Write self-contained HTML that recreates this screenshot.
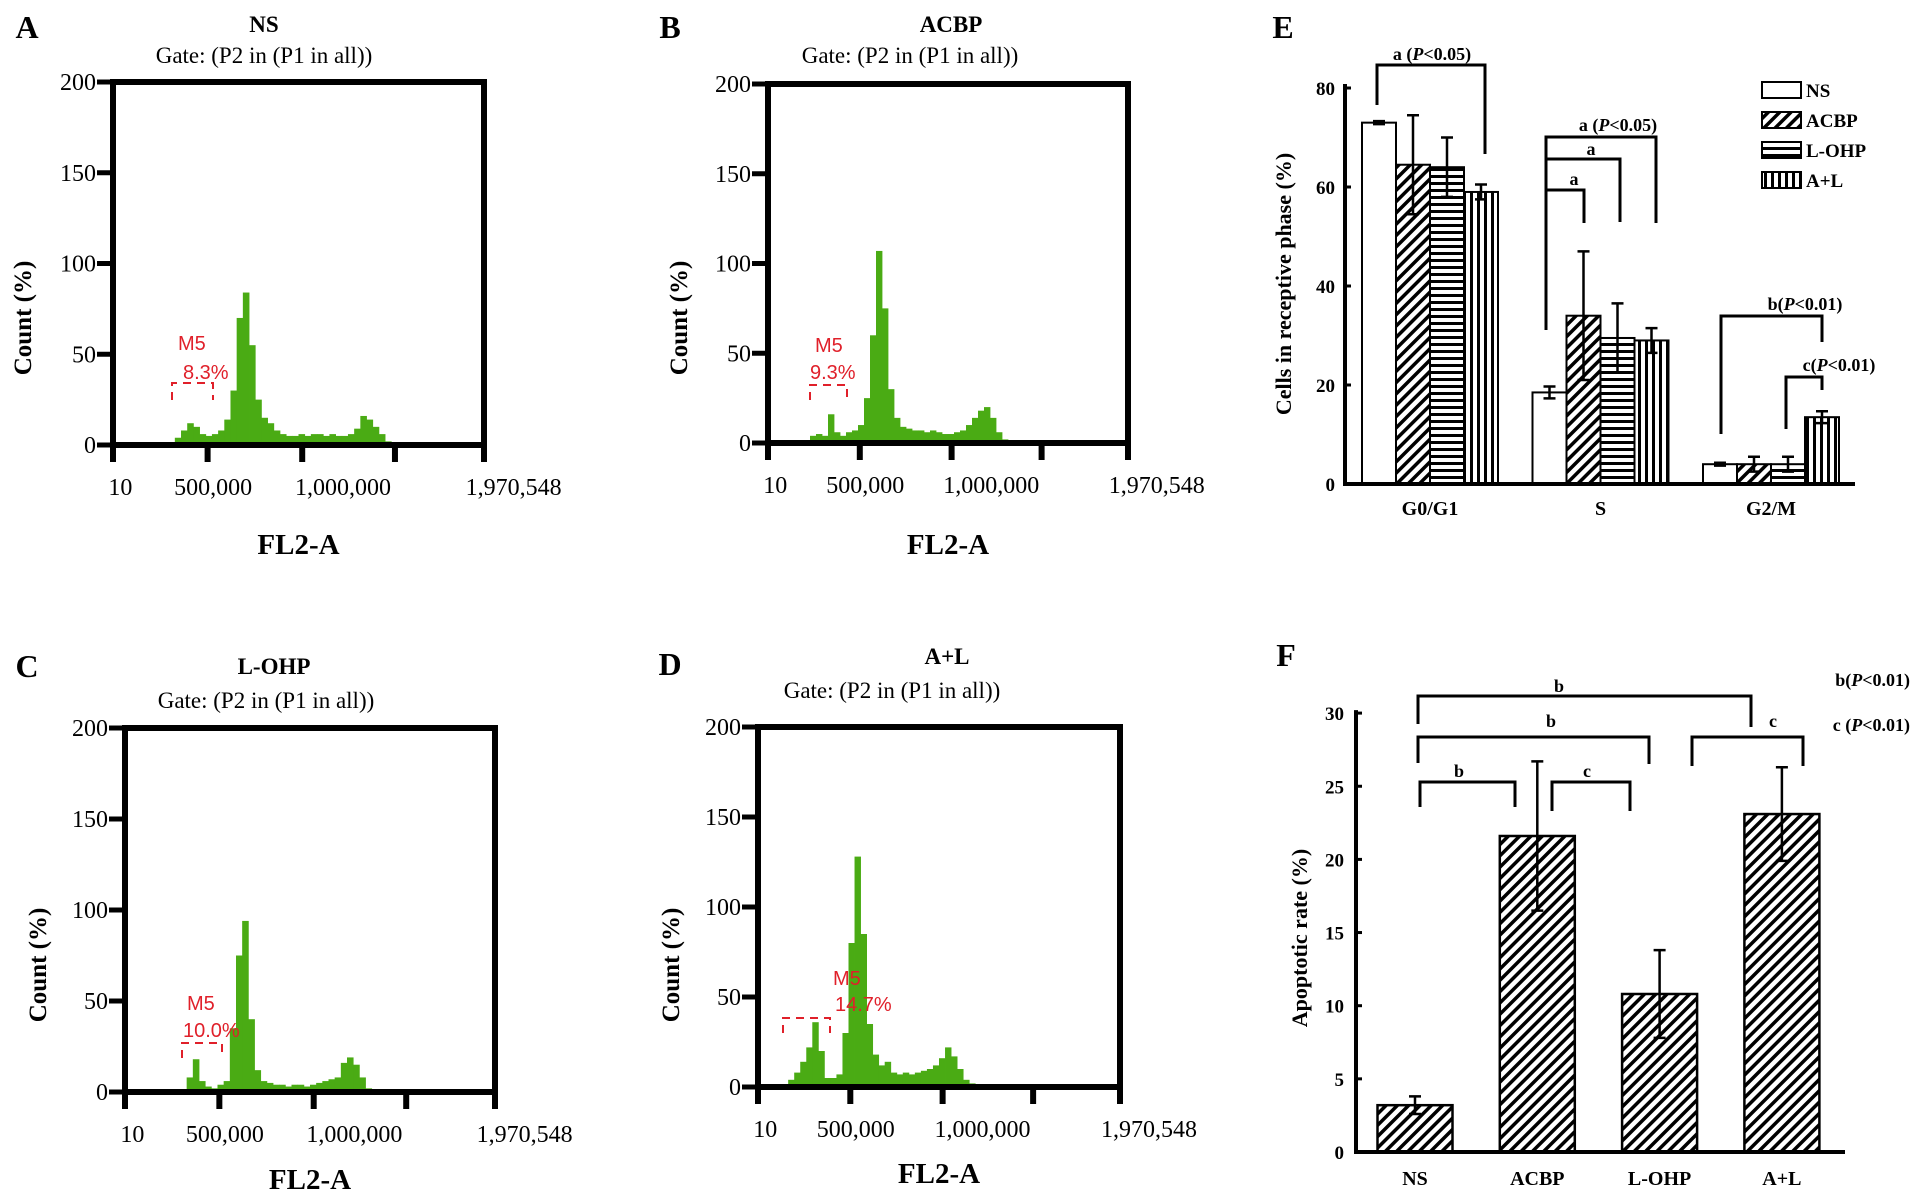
<!DOCTYPE html>
<html><head><meta charset="utf-8"><style>
html,body{margin:0;padding:0;background:#fff;}
svg{display:block;font-family:"Liberation Serif",serif;}
.sans{font-family:"Liberation Sans",sans-serif;}
</style></head><body>
<svg id="fig" width="1913" height="1201" viewBox="0 0 1913 1201" xmlns="http://www.w3.org/2000/svg">
<defs>
<pattern id="pDiag" patternUnits="userSpaceOnUse" width="8" height="8" patternTransform="rotate(45)"><rect width="8" height="8" fill="#fff"/><rect x="0" y="0" width="3.5" height="8" fill="#000"/></pattern>
<pattern id="pHor" patternUnits="userSpaceOnUse" width="8" height="7"><rect width="8" height="7" fill="#fff"/><rect x="0" y="0" width="8" height="3" fill="#000"/></pattern>
<pattern id="pVer" patternUnits="userSpaceOnUse" width="7" height="8"><rect width="7" height="8" fill="#fff"/><rect x="0" y="0" width="3" height="8" fill="#000"/></pattern>
</defs>
</svg>
<script>
// ---------- histogram data (60 bins across FL2-A range) ----------
const histA = [0,0,0,0,0,0,0,0,0,0,4,8,12,10,6,5,6,8,14,30,70,84,55,25,15,12,8,6,5,5,6,5,6,6,5,6,5,5,6,9,16,14,10,6,2,0,0,0,0,0,0,0,0,0,0,0,1,1,1,1];
const histB = [0,0,0,0,0,0,0,4,5,4,16,6,4,6,7,10,25,60,107,75,30,14,9,8,7,7,6,7,6,5,5,6,7,10,14,18,20,14,6,2,1,1,1,1,1,1,1,1,1,1,1,1,1,0,0,0,0,0,0,0];
const histC = [0,0,0,0,0,0,0,0,0,0,8,18,6,3,2,4,6,35,75,94,40,12,6,5,4,4,3,4,4,3,4,5,6,7,8,16,19,15,8,2,0,0,0,0,0,0,0,0,0,0,0,0,0,0,0,0,0,0,0,1];
const histD = [0,0,0,0,0,4,8,14,22,36,20,5,5,7,30,80,128,85,35,18,12,14,8,7,8,7,8,9,10,12,16,22,17,10,4,2,1,1,1,1,1,1,1,1,1,1,1,1,1,1,0,0,0,0,0,0,0,0,0,0];
const histYTicks = [0,50,100,150,200];
const histXLabels = ["10","500,000","1,000,000","1,970,548"];
const gateLabels = ["8.3%","9.3%","10.0%","14.7%"];

// ---------- panel E data ----------
const eCategories = ["G0/G1","S","G2/M"];
const eSeriesNames = ["NS","ACBP","L-OHP","A+L"];
const eNS = [73,18.5,4];
const eACBP = [64.5,34,4];
const eLOHP = [64,29.5,4];
const eAL = [59,29,13.5];
const eNSerr = [0.3,1.2,0.3];
const eACBPerr = [10,13,1.5];
const eLOHPerr = [6,7,1.5];
const eALerr = [1.5,2.5,1.2];
const eYTicks = [0,20,40,60,80];

// ---------- panel F data ----------
const fCategories = ["NS","ACBP","L-OHP","A+L"];
const fValues = [3.2,21.6,10.8,23.1];
const fErrors = [0.6,5.1,3.0,3.2];
const fYTicks = [0,5,10,15,20,25,30];

const NS="http://www.w3.org/2000/svg";
const svg=document.getElementById('fig');
function mk(tag,attrs,parent){const e=document.createElementNS(NS,tag);for(const k in attrs)e.setAttribute(k,attrs[k]);(parent||svg).appendChild(e);return e;}
function txt(s,attrs,parent){const e=mk('text',attrs,parent);e.textContent=s;return e;}

// ---------- histogram panels ----------
const panels=[
 {id:'a',letter:'A',title:'NS',data:histA,L:113,R:484,T:82,B:445,lx:27,ly:27,tx:264,ty:24,gx:264,gy:55,fl:99,ylx:22,yly:318,
  m5:[178,350],pct:[183,379],br:[172,213,383,400]},
 {id:'b',letter:'B',title:'ACBP',data:histB,L:768,R:1128,T:84,B:443,lx:670,ly:27,tx:951,ty:24,gx:910,gy:55,fl:101,ylx:678,yly:318,
  m5:[815,352],pct:[810,379],br:[810,847,385,400]},
 {id:'c',letter:'C',title:'L-OHP',data:histC,L:125,R:495,T:728,B:1092,lx:27,ly:666,tx:274,ty:666,gx:266,gy:700,fl:87,ylx:37,yly:965,
  m5:[187,1010],pct:[183,1037],br:[182,222,1043,1058]},
 {id:'d',letter:'D',title:'A+L',data:histD,L:758,R:1120,T:727,B:1087,lx:670,ly:664,tx:947,ty:656,gx:892,gy:690,fl:86,ylx:670,yly:965,
  m5:[833,985],pct:[835,1011],br:[783,830,1018,1033]}
];
const xTickFr=[0,0.255,0.51,0.76,1];
const xLabFr=[0.02,0.27,0.62,1.08];
panels.forEach((p,pi)=>{
  const g=mk('g',{});
  
  
  const W=p.R-p.L, ky=(p.B-p.T)/200, bw=W/p.data.length;
  const xs=f=>p.L+f*W, ys=v=>p.B-v*ky;
  const lt=txt(p.letter,{x:p.lx,y:p.ly+11,'text-anchor':'middle','font-size':32,'font-weight':'bold'},g);
  
  
  const tt=txt(p.title,{x:p.tx,y:p.ty+8,'text-anchor':'middle','font-size':23,'font-weight':'bold'},g);
  
  
  const gt=txt('Gate: (P2 in (P1 in all))',{x:p.gx,y:p.gy+8,'text-anchor':'middle','font-size':23},g);
  
  
  p.data.forEach((v,i)=>{
    if(v<=0)return;
    const r=mk('rect',{x:xs(i/p.data.length),y:ys(v),width:bw+0.4,height:v*ky,fill:'#4aab14'},g);
    
    
  });
  const fr=mk('rect',{x:p.L,y:p.T,width:W,height:p.B-p.T,fill:'none',stroke:'#000','stroke-width':6},g);
  
  
  histYTicks.forEach(v=>{
    const t=mk('line',{x1:p.L-16,x2:p.L,y1:ys(v),y2:ys(v),stroke:'#000','stroke-width':5},g);
    
    
    const l=txt(String(v),{x:p.L-17,y:ys(v)+8,'text-anchor':'end','font-size':24},g);
    
    
  });
  xTickFr.forEach(f=>{
    const t=mk('line',{x1:xs(f),x2:xs(f),y1:p.B,y2:p.B+17,stroke:'#000','stroke-width':6},g);
    
    
  });
  histXLabels.forEach((s,i)=>{
    const l=txt(s,{x:xs(xLabFr[i]),y:p.B+50,'text-anchor':'middle','font-size':24},g);
    
    
  });
  const xt=txt('FL2-A',{x:(p.L+p.R)/2,y:p.B+p.fl+10,'text-anchor':'middle','font-size':29,'font-weight':'bold'},g);
  
  
  const yt=txt('Count (%)',{x:p.ylx,y:p.yly,'text-anchor':'middle','font-size':25,'font-weight':'bold',transform:`rotate(-90 ${p.ylx} ${p.yly}) translate(0 9)`},g);
  
  
  const m=txt('M5',{x:p.m5[0],y:p.m5[1],'font-size':20,fill:'#e0202a',class:'sans'},g);
  
  
  const pc=txt(gateLabels[pi],{x:p.pct[0],y:p.pct[1],'font-size':20,fill:'#e0202a',class:'sans'},g);
  
  
  const b=p.br;
  const br=mk('path',{d:`M${b[0]} ${b[3]}V${b[2]}H${b[1]}V${b[3]}`,fill:'none',stroke:'#e0202a','stroke-width':2,'stroke-dasharray':'8 6'},g);
  
  
});

function bracket(g,x1,x2,y,l1,l2,name){
  const p=mk('path',{d:`M${x1} ${l1}V${y}H${x2}V${l2}`,fill:'none',stroke:'#000','stroke-width':3},g);
  
  
}
function sigText(g,x,y,letter,pval,anchor,name){
  const t=mk('text',{x:x,y:y,'text-anchor':anchor||'middle','font-size':18,'font-weight':'bold'},g);
  
  
  const a=mk('tspan',{},t);a.textContent=letter;
  if(pval){const b=mk('tspan',{},t);b.textContent='(';const c=mk('tspan',{'font-style':'italic'},t);c.textContent='P';const d=mk('tspan',{},t);d.textContent='<'+pval+')';}
}
function errBar(g,x,y1,y2){
  const p=mk('path',{d:`M${x} ${y1}V${y2}M${x-6} ${y1}H${x+6}M${x-6} ${y2}H${x+6}`,fill:'none',stroke:'#000','stroke-width':2.5},g);
  
  
}

// ---------- panel E ----------
(function(){
  const g=mk('g',{});
  
  
  const X0=1345,X1=1855,Y0=484,ky=396/80;
  const y=v=>Y0-v*ky;
  const gx=i=>X0+85+i*170.5;
  const BW=34;
  const fills=['#fff','url(#pDiag)','url(#pHor)','url(#pVer)'];
  const vals=[eNS,eACBP,eLOHP,eAL], errs=[eNSerr,eACBPerr,eLOHPerr,eALerr];
  const lt=txt('E',{x:1283,y:38,'text-anchor':'middle','font-size':32,'font-weight':'bold'},g);
  
  
  eCategories.forEach((c,i)=>{
    vals.forEach((arr,j)=>{
      const x=gx(i)-2*BW+j*BW;
      const r=mk('rect',{x:x,y:y(arr[i]),width:BW,height:arr[i]*ky,fill:fills[j],stroke:'#000','stroke-width':2},g);
      
      
      errBar(g,x+BW/2,y(arr[i]+errs[j][i]),y(arr[i]-errs[j][i]));
    });
    const l=txt(c,{x:gx(i),y:Y0+31,'text-anchor':'middle','font-size':20,'font-weight':'bold'},g);
    
    
  });
  const ax=mk('path',{d:`M${X0} ${y(80)-4}V${Y0}H${X1}`,fill:'none',stroke:'#000','stroke-width':4},g);
  
  
  eYTicks.forEach(v=>{
    const t=mk('line',{x1:X0,x2:X0+6,y1:y(v),y2:y(v),stroke:'#000','stroke-width':3},g);
    
    
    const l=txt(String(v),{x:X0-10,y:y(v)+7,'text-anchor':'end','font-size':19,'font-weight':'bold'},g);
    
    
  });
  const yt=txt('Cells in receptive phase (%)',{x:1284,y:284,'text-anchor':'middle','font-size':22,'font-weight':'bold',transform:'rotate(-90 1284 284) translate(0 7)'},g);
  
  
  eSeriesNames.forEach((n,j)=>{
    const yy=82+j*30;
    const r=mk('rect',{x:1762,y:yy,width:39,height:16,fill:fills[j],stroke:'#000','stroke-width':2},g);
    
    
    const l=txt(n,{x:1806,y:yy+15,'font-size':19,'font-weight':'bold'},g);
    
    
  });
  bracket(g,1377,1485,65,105,154,'sig-bracket-g0g1');
  sigText(g,1432,60,'a ','0.05','middle','sig-label-g0g1');
  bracket(g,1546,1656,137,330,223,'sig-bracket-s-3');
  bracket(g,1546,1620,159,330,222,'sig-bracket-s-2');
  bracket(g,1546,1584,190,330,223,'sig-bracket-s-1');
  sigText(g,1618,131,'a ','0.05','middle','sig-label-s-3');
  sigText(g,1591,155,'a',null,'middle','sig-label-s-2');
  sigText(g,1574,185,'a',null,'middle','sig-label-s-1');
  bracket(g,1721,1822,316,434,342,'sig-bracket-g2m-b');
  sigText(g,1805,310,'b','0.01','middle','sig-label-g2m-b');
  bracket(g,1786,1822,377,429,390,'sig-bracket-g2m-c');
  sigText(g,1839,371,'c','0.01','middle','sig-label-g2m-c');
})();

// ---------- panel F ----------
(function(){
  const g=mk('g',{});
  
  
  const X0=1356,X1=1845,Y0=1152,ky=14.63;
  const y=v=>Y0-v*ky;
  const cx=i=>1415+i*122.3;
  const BW=75;
  const lt=txt('F',{x:1286,y:666,'text-anchor':'middle','font-size':32,'font-weight':'bold'},g);
  
  
  fCategories.forEach((c,i)=>{
    const r=mk('rect',{x:cx(i)-BW/2,y:y(fValues[i]),width:BW,height:fValues[i]*ky,fill:'url(#pDiag)',stroke:'#000','stroke-width':2.5},g);
    
    
    errBar(g,cx(i),y(fValues[i]+fErrors[i]),y(fValues[i]-fErrors[i]));
    const l=txt(c,{x:cx(i),y:Y0+33,'text-anchor':'middle','font-size':20,'font-weight':'bold'},g);
    
    
  });
  const ax=mk('path',{d:`M${X0} ${y(30)-3}V${Y0}H${X1}`,fill:'none',stroke:'#000','stroke-width':4},g);
  
  
  fYTicks.forEach(v=>{
    const t=mk('line',{x1:X0,x2:X0+6,y1:y(v),y2:y(v),stroke:'#000','stroke-width':3},g);
    
    
    const l=txt(String(v),{x:X0-12,y:y(v)+7,'text-anchor':'end','font-size':19,'font-weight':'bold'},g);
    
    
  });
  const yt=txt('Apoptotic rate (%)',{x:1300,y:938,'text-anchor':'middle','font-size':22,'font-weight':'bold',transform:'rotate(-90 1300 938) translate(0 7)'},g);
  
  
  bracket(g,1418,1751,696,724,727,'sig-bracket-ns-al');
  sigText(g,1559,692,'b',null,'middle','sig-label-ns-al');
  bracket(g,1418,1649,737,763,764,'sig-bracket-ns-lohp');
  sigText(g,1551,727,'b',null,'middle','sig-label-ns-lohp');
  bracket(g,1692,1803,737,766,766,'sig-bracket-lohp-al');
  sigText(g,1773,727,'c',null,'middle','sig-label-lohp-al');
  bracket(g,1420,1515,782,807,807,'sig-bracket-ns-acbp');
  sigText(g,1459,777,'b',null,'middle','sig-label-ns-acbp');
  bracket(g,1552,1630,782,811,811,'sig-bracket-acbp-lohp');
  sigText(g,1587,777,'c',null,'middle','sig-label-acbp-lohp');
  sigText(g,1910,686,'b','0.01','end','sig-key-b');
  sigText(g,1910,731,'c ','0.01','end','sig-key-c');
})();
</script>
</body></html>
